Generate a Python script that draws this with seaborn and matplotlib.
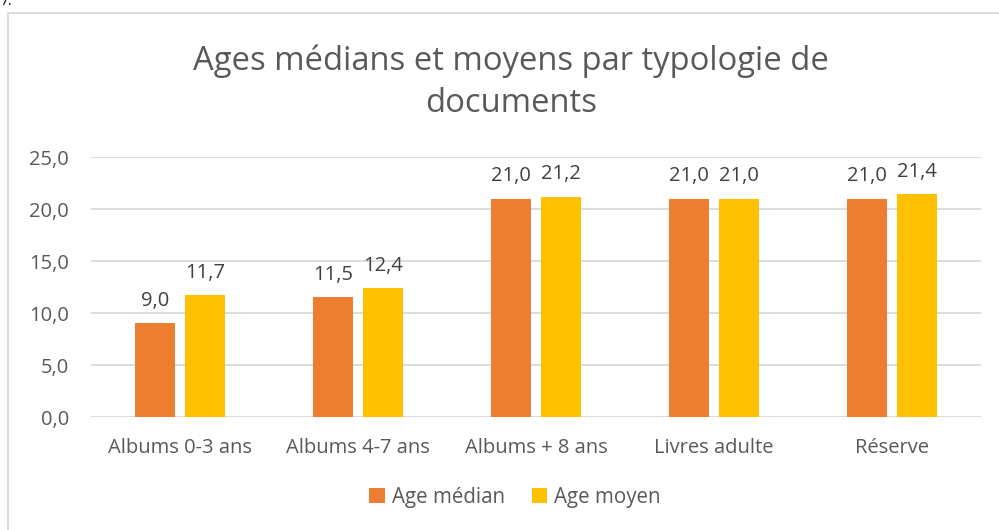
import matplotlib
matplotlib.use("Agg")
import matplotlib.pyplot as plt
import seaborn as sns
import pandas as pd
from matplotlib.patches import Patch
from matplotlib.lines import Line2D

categories = ["Albums 0-3 ans", "Albums 4-7 ans", "Albums + 8 ans", "Livres adulte", "Réserve"]
age_median = [9.0, 11.5, 21.0, 21.0, 21.0]
age_moyen = [11.7, 12.4, 21.2, 21.0, 21.4]
series_names = ["Age médian", "Age moyen"]
colors = ["#ED7D31", "#FFC000"]
yticks = [0, 5, 10, 15, 20, 25]

df = pd.DataFrame({
    "cat": categories * 2,
    "val": age_median + age_moyen,
    "serie": [series_names[0]] * len(categories) + [series_names[1]] * len(categories),
})

sns.set_theme(style="white")
plt.rcParams["font.family"] = ["Open Sans", "DejaVu Sans"]
txt = "#595959"

fig = plt.figure(figsize=(9.99, 5.30), dpi=100)
ax = fig.add_axes([91 / 999, 1 - 417 / 530, (981 - 91) / 999, (417 - 157) / 530])

sns.barplot(data=df, x="cat", y="val", hue="serie", palette=colors, order=categories,
            hue_order=series_names, width=0.562, gap=0.2, ax=ax, legend=False,
            saturation=1, edgecolor="none", linewidth=0)

ax.set_ylim(0, 25)
ax.set_xlim(-0.5, len(categories) - 0.5)
ax.set_yticks(yticks)
ax.set_yticklabels([f"{v:.1f}".replace(".", ",") for v in yticks], fontsize=14.5, color=txt)
ax.tick_params(axis="x", labelsize=14.5, colors=txt, length=0, pad=15)
ax.tick_params(axis="y", length=0, pad=16)
for lab in ax.get_xticklabels():
    lab.set_color(txt)
ax.set_xlabel("")
ax.set_ylabel("")
ax.grid(axis="y", color="#D9D9D9", linewidth=1.3)
ax.set_axisbelow(True)
for s in ax.spines.values():
    s.set_visible(False)

for cont in ax.containers:
    vals = cont.datavalues
    ax.bar_label(cont, labels=[f"{v:.1f}".replace(".", ",") for v in vals],
                 padding=9, fontsize=14.5, color="#404040")

fig.text(511 / 999, 1 - 82 / 530, "Ages médians et moyens par typologie de\ndocuments",
         ha="center", va="center", fontsize=23.6, color=txt, linespacing=1.36)

handles = [Patch(facecolor=c, edgecolor="none") for c in colors]
fig.legend(handles, series_names, loc="center", bbox_to_anchor=(515 / 999, 1 - 497 / 530),
           ncol=2, frameon=False, fontsize=14.8, labelcolor=txt, handlelength=0.75,
           handleheight=0.75, handletextpad=0.35, columnspacing=1.3)

# chart frame (top and left edges visible)
fig.add_artist(Line2D([8 / 999, 8 / 999], [0, 1 - 13 / 530], transform=fig.transFigure,
                      color="#D9D9D9", linewidth=1.3))
fig.add_artist(Line2D([8 / 999, 1], [1 - 13 / 530, 1 - 13 / 530], transform=fig.transFigure,
                      color="#D9D9D9", linewidth=1.3))
fig.text(0.0, 0.997, "7.", ha="left", va="center", fontsize=10, color="#000000")

fig.savefig("out.png", dpi=100)
